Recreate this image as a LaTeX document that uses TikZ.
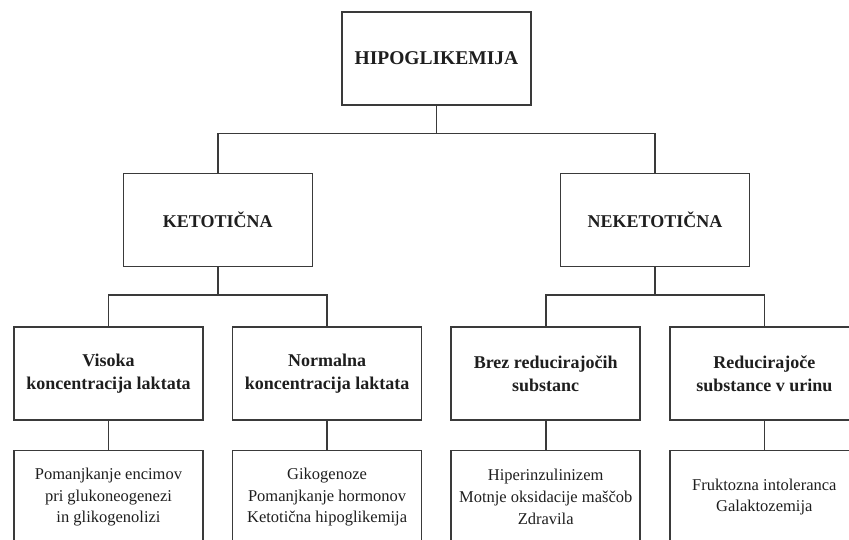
\documentclass[tikz,border=0pt]{standalone}
\usepackage{fontspec}
\setmainfont{Liberation Serif}
\usepackage{xcolor}
\definecolor{cLine}{HTML}{3A3A3A}
\definecolor{cText}{HTML}{1E1E1E}
\usetikzlibrary{positioning,calc}
\tikzset{
  node-box/.style={draw=cLine,line width=1.6pt,minimum width=189pt,minimum height=93pt,
    align=center,text=cText,inner sep=0pt},
  node-root/.style={font=\bfseries\fontsize{19.5}{23}\selectfont},
  node-head/.style={font=\bfseries\fontsize{18}{22.7}\selectfont},
  node-leaf/.style={font=\fontsize{16.5}{21.8}\selectfont},
  link/.style={draw=cLine,line width=1.6pt},
}
\begin{document}
\begin{tikzpicture}[x=1pt,y=1pt,node distance=29pt and 28pt]
  \useasboundingbox (0,0) rectangle (849,-539);
  \clip (0,0) rectangle (849,-539);
  % tretja vrsta
  \node[node-box,node-head]                    (vis) at (108.5,-373.5) {Visoka\\koncentracija laktata};
  \node[node-box,node-head,right=of vis]       (nor) {Normalna\\koncentracija laktata};
  \node[node-box,node-head,right=of nor]       (brz) {Brez reducirajočih\\substanc};
  \node[node-box,node-head,right=of brz]       (red) {Reducirajoče\\substance v urinu};
  \node[node-box,node-leaf,below=of vis]       (vis4) {Pomanjkanje encimov\\pri glukoneogenezi\\in glikogenolizi};
  \node[node-box,node-leaf,below=of nor]       (nor4) {Gikogenoze\\Pomanjkanje hormonov\\Ketotična hipoglikemija};
  \node[node-box,node-leaf,below=of brz]       (brz4) {Hiperinzulinizem\\Motnje oksidacije maščob\\Zdravila};
  \node[node-box,node-leaf,below=of red]       (red4) {Fruktozna intoleranca\\Galaktozemija};
  \coordinate (kmid) at ($(vis.north)!.5!(nor.north)$);
  \coordinate (nmid) at ($(brz.north)!.5!(red.north)$);
  \node[node-box,node-head,above=59pt of kmid] (ket) {KETOTIČNA};
  \node[node-box,node-head,above=59pt of nmid] (nek) {NEKETOTIČNA};
  \coordinate (tmid) at ($(ket.north)!.5!(nek.north)$);
  \node[node-box,node-root,above=67pt of tmid] (hip) {HIPOGLIKEMIJA};
  \draw[link] (hip.south) -- ++(0,-28) coordinate (hb);
  \draw[link] (hb) -| (ket.north);
  \draw[link] (hb) -| (nek.north);
  \draw[link] (ket.south) -- ++(0,-28) coordinate (kb);
  \draw[link] (kb) -| (vis.north);
  \draw[link] (kb) -| (nor.north);
  \draw[link] (nek.south) -- ++(0,-28) coordinate (nb);
  \draw[link] (nb) -| (brz.north);
  \draw[link] (nb) -| (red.north);
  \draw[link] (vis) -- (vis4);
  \draw[link] (nor) -- (nor4);
  \draw[link] (brz) -- (brz4);
  \draw[link] (red) -- (red4);
\end{tikzpicture}
\end{document}
